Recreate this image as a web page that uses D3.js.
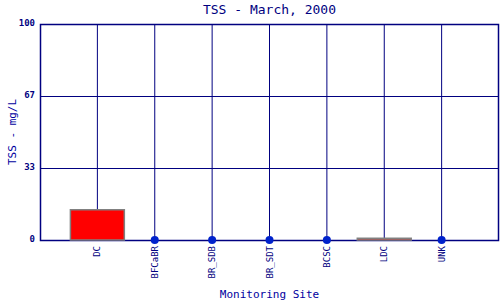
<!DOCTYPE html>
<html>
<head>
<meta charset="utf-8">
<script src="https://cdn.jsdelivr.net/npm/d3@7"></script>
<style>
  body { margin: 0; background: #fff; }
  text { font-family: "DejaVu Sans Mono", monospace; }
</style>
</head>
<body>
<div id="chart"></div>
<script>
var sites = ["DC", "BFCaBR", "BR_SDB", "BR_SDT", "BCSC", "LDC", "UNK"];
var tss = [14, 0, 0, 0, 0, 0.8, 0];
var yTicks = [0, 100 / 3, 200 / 3, 100];
var yTickLabels = ["0", "33", "67", "100"];

var margin = {top: 24, right: 1, bottom: 60, left: 40},
    width = 500 - margin.left - margin.right,
    height = 300 - margin.top - margin.bottom;

var svg = d3.select("#chart")
    .append("svg")
    .attr("width", 500)
    .attr("height", 300)
    .append("g")
    .attr("transform", "translate(" + margin.left + "," + margin.top + ")");

var xScale = d3.scaleLinear()
    .domain([0, sites.length + 1])
    .range([0, width]);

var yScale = d3.scaleLinear()
    .domain([0, 100])
    .range([height, 0]);

var step = xScale(1) - xScale(0);
var barWidth = step * 0.94;
var navy = "#000080";

// grid
svg.selectAll("line.vgrid")
    .data(sites)
    .enter()
    .append("line")
    .attr("class", "vgrid")
    .attr("x1", function (d, i) { return xScale(i + 1); })
    .attr("x2", function (d, i) { return xScale(i + 1); })
    .attr("y1", 0)
    .attr("y2", height)
    .style("stroke", navy)
    .style("stroke-width", 1);

svg.selectAll("line.hgrid")
    .data(yTicks)
    .enter()
    .append("line")
    .attr("class", "hgrid")
    .attr("x1", 0)
    .attr("x2", width)
    .attr("y1", function (d) { return Math.round(yScale(d)) + 0.5; })
    .attr("y2", function (d) { return Math.round(yScale(d)) + 0.5; })
    .style("stroke", navy)
    .style("stroke-width", 1);

svg.append("rect")
    .attr("x", 0.5)
    .attr("y", 0.5)
    .attr("width", width - 1)
    .attr("height", height)
    .style("fill", "none")
    .style("stroke", navy)
    .style("stroke-width", 1.5);

// y tick labels
svg.selectAll("text.ytick")
    .data(yTicks)
    .enter()
    .append("text")
    .attr("class", "ytick")
    .attr("x", -5)
    .attr("y", function (d) { return yScale(d) + 2; })
    .attr("text-anchor", "end")
    .style("font-size", "9px")
    .style("font-weight", "bold")
    .style("fill", navy)
    .text(function (d, i) { return yTickLabels[i]; });

// bars
var df = sites.map(function (s, i) { return {site: s, value: tss[i], idx: i}; });

svg.selectAll("rect.bar")
    .data(df.filter(function (d) { return d.value > 0; }))
    .enter()
    .append("rect")
    .attr("class", "bar")
    .attr("x", function (d) { return xScale(d.idx + 1) - barWidth / 2; })
    .attr("y", function (d) { return yScale(d.value); })
    .attr("width", barWidth)
    .attr("height", function (d) { return yScale(0) - yScale(d.value); })
    .style("fill", "#ff0000")
    .style("stroke", "#808080")
    .style("stroke-width", 1.5);

// zero points
svg.selectAll("circle.zero")
    .data(df.filter(function (d) { return d.value === 0; }))
    .enter()
    .append("circle")
    .attr("class", "zero")
    .attr("cx", function (d) { return xScale(d.idx + 1); })
    .attr("cy", yScale(0))
    .attr("r", 4)
    .style("fill", "#0022cc");

// category labels
svg.selectAll("text.xtick")
    .data(df)
    .enter()
    .append("text")
    .attr("class", "xtick")
    .attr("transform", function (d) {
        return "translate(" + (xScale(d.idx + 1) + 3) + "," + (height + 6) + ") rotate(-90)";
    })
    .attr("text-anchor", "end")
    .style("font-size", "9px")
    .style("fill", navy)
    .text(function (d) { return d.site; });

// titles
svg.append("text")
    .attr("x", width / 2)
    .attr("y", -10)
    .attr("text-anchor", "middle")
    .style("font-size", "13px")
    .style("fill", navy)
    .text("TSS - March, 2000");

svg.append("text")
    .attr("x", width / 2)
    .attr("y", height + 58)
    .attr("text-anchor", "middle")
    .style("font-size", "11px")
    .style("fill", "#0000a0")
    .text("Monitoring Site");

svg.append("text")
    .attr("transform", "translate(" + (-margin.left + 16) + "," + (height / 2) + ") rotate(-90)")
    .attr("text-anchor", "middle")
    .style("font-size", "11px")
    .style("fill", "#0000a0")
    .text("TSS - mg/L");
</script>
</body>
</html>
